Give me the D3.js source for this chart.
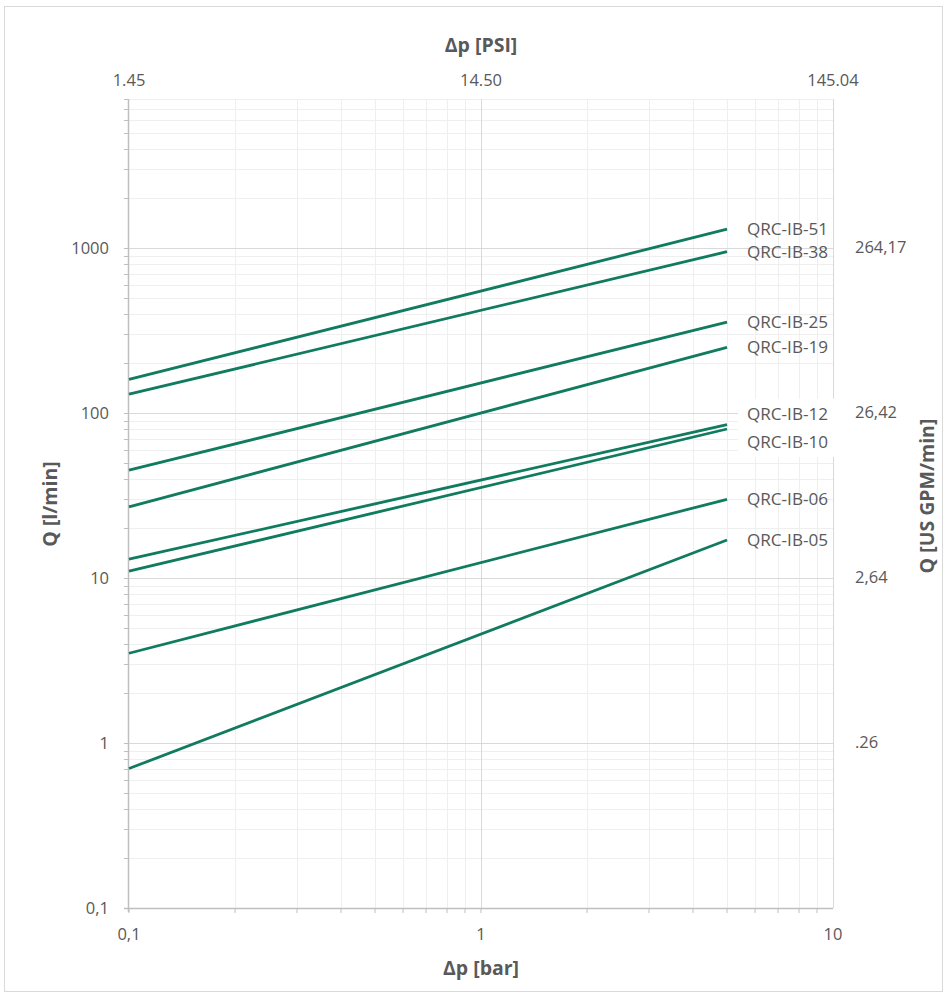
<!DOCTYPE html>
<html><head><meta charset="utf-8">
<script src="https://cdn.jsdelivr.net/npm/d3@7"></script>
<style>
html,body{margin:0;padding:0;background:#fff;}
svg{display:block;font-family:"Open Sans",sans-serif;}
</style></head>
<body><svg id="chart" width="948" height="996"></svg>
<script>
// ---- data ----
const seriesNames = ["QRC-IB-51","QRC-IB-38","QRC-IB-25","QRC-IB-19","QRC-IB-12","QRC-IB-10","QRC-IB-06","QRC-IB-05"];
const pressureBar = [0.1, 5];
const flowAtLow  = [160, 130, 45, 27, 13, 11, 3.5, 0.7];     // l/min at 0.1 bar
const flowAtHigh = [1300, 950, 356, 250, 85, 80, 30, 17];    // l/min at 5 bar
const xTicks = [0.1, 1, 10];
const xTickLabels = ["0,1", "1", "10"];
const psiTickLabels = ["1.45", "14.50", "145.04"];
const yTicks = [0.1, 1, 10, 100, 1000];
const yTickLabels = ["0,1", "1", "10", "100", "1000"];
const gpmTicks = [1, 10, 100, 1000];
const gpmTickLabels = [".26", "2,64", "26,42", "264,17"];
const xDomain = [0.1, 10];
const yDomain = [0.1, 8000];

// ---- layout ----
const svg = d3.select("#chart");
const L = 129, R = 833, T = 99, B = 908;
const x = d3.scaleLog().domain(xDomain).range([L, R]);
const y = d3.scaleLog().domain(yDomain).range([B, T]);
const textCol = "#595959", lineCol = "#107b5e";

// outer border
svg.append("rect").attr("x",4.5).attr("y",6.5).attr("width",938).attr("height",985)
  .attr("fill","#fff").attr("stroke","#d9d9d9").attr("stroke-width",1);

function minorVals(dom){
  const out=[]; const a=Math.floor(Math.log10(dom[0])), b=Math.ceil(Math.log10(dom[1]));
  for(let e=a;e<b;e++) for(let m=1;m<=9;m++){const v=m*Math.pow(10,e); if(v>=dom[0]-1e-12 && v<=dom[1]+1e-9) out.push(v);}
  return out;
}
const xAll = minorVals(xDomain), yAll = minorVals(yDomain);
const isMajor = v => Math.abs(Math.log10(v) - Math.round(Math.log10(v))) < 1e-9;

const g = svg.append("g");
// minor gridlines
g.selectAll(".vmin").data(xAll.filter(v=>!isMajor(v))).join("line")
  .attr("x1",d=>Math.round(x(d))+0.5).attr("x2",d=>Math.round(x(d))+0.5).attr("y1",T).attr("y2",B)
  .attr("stroke","#efefef").attr("stroke-width",1);
g.selectAll(".hmin").data(yAll.filter(v=>!isMajor(v))).join("line")
  .attr("y1",d=>Math.round(y(d))+0.5).attr("y2",d=>Math.round(y(d))+0.5).attr("x1",L).attr("x2",R)
  .attr("stroke","#efefef").attr("stroke-width",1);
// major gridlines
g.selectAll(".vmaj").data(xTicks.slice(1)).join("line")
  .attr("x1",d=>Math.round(x(d))+0.5).attr("x2",d=>Math.round(x(d))+0.5).attr("y1",T).attr("y2",B)
  .attr("stroke","#d9d9d9").attr("stroke-width",1);
g.selectAll(".hmaj").data(yTicks.slice(1)).join("line")
  .attr("y1",d=>Math.round(y(d))+0.5).attr("y2",d=>Math.round(y(d))+0.5).attr("x1",L).attr("x2",R)
  .attr("stroke","#d9d9d9").attr("stroke-width",1);

// left axis line + ticks
g.append("line").attr("x1",L-0.5).attr("x2",L-0.5).attr("y1",T).attr("y2",B+4)
  .attr("stroke","#bfbfbf").attr("stroke-width",1.5);
g.selectAll(".ytk").data(yAll).join("line")
  .attr("x1",L-5).attr("x2",L).attr("y1",d=>Math.round(y(d))+0.5).attr("y2",d=>Math.round(y(d))+0.5)
  .attr("stroke","#bfbfbf").attr("stroke-width",1);
// bottom axis line + ticks
g.append("line").attr("x1",L-5).attr("x2",R).attr("y1",B+0.5).attr("y2",B+0.5)
  .attr("stroke","#bfbfbf").attr("stroke-width",1.5);
g.selectAll(".xtk").data(xAll).join("line")
  .attr("y1",B).attr("y2",B+5).attr("x1",d=>Math.round(x(d))).attr("x2",d=>Math.round(x(d)))
  .attr("stroke","#bfbfbf").attr("stroke-width",1);

// series lines
const lineGen = d3.line().x(d=>x(d[0])).y(d=>y(d[1]));
seriesNames.forEach((name,i)=>{
  const pts = [[pressureBar[0], flowAtLow[i]], [pressureBar[1], flowAtHigh[i]]];
  g.append("path").attr("d", lineGen(pts)).attr("fill","none")
    .attr("stroke", lineCol).attr("stroke-width", 2.8);
});

// series labels
const labelShift = {"QRC-IB-12": -11, "QRC-IB-10": 13};
const boxed = {"QRC-IB-12": true, "QRC-IB-10": true};
seriesNames.forEach((name,i)=>{
  const yy = y(flowAtHigh[i]) + (labelShift[name]||0);
  if (boxed[name]) {
    g.append("rect").attr("x",738).attr("y",yy-15).attr("width",102).attr("height",30).attr("fill","#fff");
  }
});
seriesNames.forEach((name,i)=>{
  const yy = y(flowAtHigh[i]) + (labelShift[name]||0);
  g.append("text").attr("x",747).attr("y",yy).attr("dy","0.35em")
    .attr("fill",textCol).attr("font-size",17).attr("textLength",81).attr("lengthAdjust","spacingAndGlyphs").text(name);
});

// tick labels
const t = svg.append("g").attr("fill",textCol).attr("font-size",16.5);
t.selectAll(".yl").data(yTicks).join("text")
  .attr("x",109).attr("y",d=>y(d)).attr("dy","0.35em").attr("text-anchor","end")
  .text((d,i)=>yTickLabels[i]);
t.selectAll(".xl").data(xTicks).join("text")
  .attr("x",d=>x(d)).attr("y",934).attr("dy","0.35em").attr("text-anchor","middle")
  .text((d,i)=>xTickLabels[i]);
t.selectAll(".pl").data(xTicks).join("text")
  .attr("x",d=>x(d)).attr("y",80).attr("dy","0.35em").attr("text-anchor","middle")
  .text((d,i)=>psiTickLabels[i]);
t.selectAll(".gl").data(gpmTicks).join("text")
  .attr("x",855).attr("y",d=>y(d)).attr("dy","0.3em").attr("text-anchor","start")
  .text((d,i)=>gpmTickLabels[i]);

// axis titles
const at = svg.append("g").attr("fill",textCol).attr("font-size",19.5).attr("font-weight","bold");
at.append("text").attr("x",481).attr("y",45).attr("dy","0.35em").attr("text-anchor","middle").text("Δp [PSI]");
at.append("text").attr("x",481).attr("y",968).attr("dy","0.35em").attr("text-anchor","middle").text("Δp [bar]");
at.append("text").attr("transform","translate(50,504) rotate(-90)").attr("dy","0.35em").attr("text-anchor","middle").text("Q [l/min]");
at.append("text").attr("transform","translate(927,496) rotate(-90)").attr("dy","0.35em").attr("text-anchor","middle").text("Q [US GPM/min]");
</script></body></html>
